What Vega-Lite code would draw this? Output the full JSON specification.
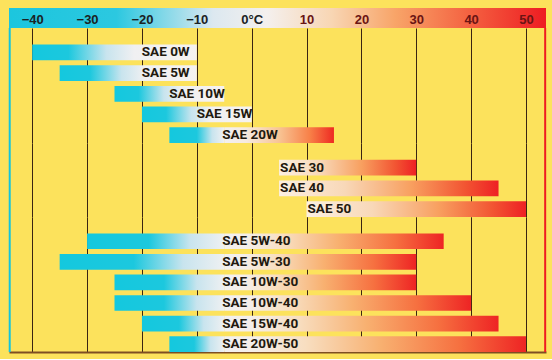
{
  "$schema": "https://vega.github.io/schema/vega-lite/v6.json",
  "background": "#FCE25C",
  "padding": {"left": 8, "top": 8, "right": 7, "bottom": 6},
  "spacing": 0,
  "bounds": "flush",
  "config": {"view": {"stroke": null}, "font": "Roboto", "axis": {"minExtent": 0, "maxExtent": 0, "offset": 0}},
  "datasets": {
    "oils": [
      {"oil": "SAE 0W", "kind": "winter", "lo": -40, "hi": -10},
      {"oil": "SAE 5W", "kind": "winter", "lo": -35, "hi": -10},
      {"oil": "SAE 10W", "kind": "winter", "lo": -25, "hi": -5},
      {"oil": "SAE 15W", "kind": "winter", "lo": -20, "hi": 0},
      {"oil": "SAE 20W", "kind": "winter", "lo": -15, "hi": 15},
      {"oil": "SAE 30", "kind": "summer", "lo": 5, "hi": 30},
      {"oil": "SAE 40", "kind": "summer", "lo": 5, "hi": 45},
      {"oil": "SAE 50", "kind": "summer", "lo": 10, "hi": 50},
      {"oil": "SAE 5W-40", "kind": "multi", "lo": -30, "hi": 35},
      {"oil": "SAE 5W-30", "kind": "multi", "lo": -35, "hi": 30},
      {"oil": "SAE 10W-30", "kind": "multi", "lo": -25, "hi": 30},
      {"oil": "SAE 10W-40", "kind": "multi", "lo": -25, "hi": 40},
      {"oil": "SAE 15W-40", "kind": "multi", "lo": -20, "hi": 45},
      {"oil": "SAE 20W-50", "kind": "multi", "lo": -15, "hi": 50}
    ]
  },
  "vconcat": [
    {
      "width": 537,
      "height": 20,
      "data": {"values": [{}]},
      "mark": {"type": "rect", "fill": {"gradient": "linear", "x1": 0, "x2": 1, "y1": 0, "y2": 0, "stops": [
        {"offset": 0, "color": "#1CC6DE"},
        {"offset": 0.2, "color": "#2CC8E0"},
        {"offset": 0.38, "color": "#DCE8F0"},
        {"offset": 0.48, "color": "#F4F0EE"},
        {"offset": 0.6, "color": "#F8D6B4"},
        {"offset": 0.72, "color": "#F8A468"},
        {"offset": 0.86, "color": "#F46040"},
        {"offset": 1, "color": "#EE1C22"}
      ]}},
      "encoding": {
        "x": {"datum": -44.23, "type": "quantitative", "scale": {"domain": [-44.23, 53.65], "nice": false, "zero": false},
          "axis": {"orient": "bottom", "zindex": 2, "values": [-40, -30, -20, -10, 0, 10, 20, 30, 40, 50], "grid": false, "domain": false, "ticks": false, "tickSize": 0,
            "labelPadding": -9, "labelBaseline": "middle", "labelFont": "Liberation Sans", "labelFontSize": 13, "labelFontWeight": "bold", "labelFlush": false, "labelOverlap": false,
            "labelExpr": "datum.value == 0 ? '0°C' : datum.label", "title": null,
            "labelColor": {"condition": {"test": "datum.value > 5", "value": "#6A1414"}, "value": "#1A2224"}}},
        "x2": {"datum": 53.65}
      }
    },
    {
      "width": 537,
      "height": 115,
      "data": {"name": "oils"},
      "transform": [{"filter": "datum.kind == 'winter'"}],
      "layer": [
        {
          "transform": [{"filter": "datum.hi <= 0"}],
          "mark": {"type": "bar", "fill": {"gradient": "linear", "x1": 0, "x2": 1, "y1": 0, "y2": 0, "stops": [
            {"offset": 0, "color": "#14C8DE"}, {"offset": 0.22, "color": "#1CC8DE"}, {"offset": 0.45, "color": "#C8E4EE"}, {"offset": 0.62, "color": "#F0F0F2"}, {"offset": 1, "color": "#F6F2F0"}]}},
          "encoding": {
            "y": {"field": "oil", "type": "nominal", "scale": {"domain": ["SAE 0W", "SAE 5W", "SAE 10W", "SAE 15W", "SAE 20W"], "paddingInner": 0.24, "paddingOuter": 0.4, "align": 1}, "axis": null},
            "x": {"field": "lo", "type": "quantitative", "scale": {"domain": [-44.23, 53.65], "nice": false, "zero": false},
              "axis": {"values": [-40, -30, -20, -10, 0, 10, 20, 30, 40, 50], "grid": true, "gridColor": "#3A2412", "gridWidth": 1, "gridOpacity": 1, "labels": false, "ticks": false, "domain": false, "title": null}},
            "x2": {"field": "hi"}
          }
        },
        {
          "transform": [{"filter": "datum.hi > 0"}],
          "mark": {"type": "bar", "fill": {"gradient": "linear", "x1": 0, "x2": 1, "y1": 0, "y2": 0, "stops": [
            {"offset": 0, "color": "#14C8DE"}, {"offset": 0.5, "color": "#1CC8DE"}, {"offset": 0.78, "color": "#C8E4EE"}, {"offset": 1, "color": "#F0F0F2"}]}},
          "encoding": {
            "y": {"field": "oil", "type": "nominal", "axis": null},
            "x": {"field": "lo", "type": "quantitative", "title": null},
            "x2": {"datum": -5}
          }
        },
        {
          "transform": [{"filter": "datum.hi > 0"}],
          "mark": {"type": "bar", "fill": {"gradient": "linear", "x1": 0, "x2": 1, "y1": 0, "y2": 0, "stops": [
            {"offset": 0, "color": "#F2F0F0"}, {"offset": 0.2, "color": "#F6EAE0"}, {"offset": 0.5, "color": "#F8C494"}, {"offset": 0.78, "color": "#F88048"}, {"offset": 1, "color": "#EE2A22"}]}},
          "encoding": {
            "y": {"field": "oil", "type": "nominal", "axis": null},
            "x": {"field": "hi", "type": "quantitative", "title": null},
            "x2": {"datum": -5}
          }
        },
        {
          "transform": [{"filter": "datum.hi <= 0"}],
          "mark": {"type": "text", "align": "left", "baseline": "middle", "dx": -55, "font": "Roboto", "fontWeight": "bold", "fontSize": 13.5, "color": "#22190F"},
          "encoding": {
            "y": {"field": "oil", "type": "nominal", "axis": null},
            "x": {"field": "hi", "type": "quantitative", "title": null},
            "text": {"field": "oil"}
          }
        },
        {
          "transform": [{"filter": "datum.hi > 0"}],
          "mark": {"type": "text", "align": "left", "baseline": "middle", "dx": -2, "font": "Roboto", "fontWeight": "bold", "fontSize": 13.5, "color": "#22190F"},
          "encoding": {
            "y": {"field": "oil", "type": "nominal", "axis": null},
            "x": {"datum": -5, "type": "quantitative"},
            "text": {"field": "oil"}
          }
        },
        {
          "data": {"values": [{}]},
          "mark": {"type": "rule", "color": "#12C4DE", "strokeWidth": 2},
          "encoding": {"x": {"datum": -44.1, "type": "quantitative"}}
        },
        {
          "data": {"values": [{}]},
          "mark": {"type": "rule", "color": "#EE1C22", "strokeWidth": 2},
          "encoding": {"x": {"datum": 53.5, "type": "quantitative"}}
        }
      ]
    },
    {
      "width": 537,
      "height": 74,
      "data": {"name": "oils"},
      "transform": [{"filter": "datum.kind == 'summer'"}],
      "layer": [
        {
          "mark": {"type": "bar", "fill": {"gradient": "linear", "x1": 0, "x2": 1, "y1": 0, "y2": 0, "stops": [
            {"offset": 0, "color": "#FCF0E2"}, {"offset": 0.3, "color": "#F8D8B8"}, {"offset": 0.6, "color": "#F8A060"}, {"offset": 0.85, "color": "#F25432"}, {"offset": 1, "color": "#EE2024"}]}},
          "encoding": {
            "y": {"field": "oil", "type": "nominal", "scale": {"domain": ["SAE 30", "SAE 40", "SAE 50"], "paddingInner": 0.24, "paddingOuter": 0.4, "align": 1}, "axis": null},
            "x": {"field": "lo", "type": "quantitative", "scale": {"domain": [-44.23, 53.65], "nice": false, "zero": false},
              "axis": {"values": [-40, -30, -20, -10, 0, 10, 20, 30, 40, 50], "grid": true, "gridColor": "#3A2412", "gridWidth": 1, "gridOpacity": 1, "labels": false, "ticks": false, "domain": false, "title": null}},
            "x2": {"field": "hi"}
          }
        },
        {
          "mark": {"type": "text", "align": "left", "baseline": "middle", "dx": 1, "font": "Roboto", "fontWeight": "bold", "fontSize": 13.5, "color": "#22190F"},
          "encoding": {
            "y": {"field": "oil", "type": "nominal", "axis": null},
            "x": {"field": "lo", "type": "quantitative", "title": null},
            "text": {"field": "oil"}
          }
        },
        {
          "data": {"values": [{}]},
          "mark": {"type": "rule", "color": "#12C4DE", "strokeWidth": 2},
          "encoding": {"x": {"datum": -44.1, "type": "quantitative"}}
        },
        {
          "data": {"values": [{}]},
          "mark": {"type": "rule", "color": "#EE1C22", "strokeWidth": 2},
          "encoding": {"x": {"datum": 53.5, "type": "quantitative"}}
        }
      ]
    },
    {
      "width": 537,
      "height": 135,
      "data": {"name": "oils"},
      "transform": [{"filter": "datum.kind == 'multi'"}],
      "layer": [
        {
          "mark": {"type": "bar", "fill": {"gradient": "linear", "x1": 0, "x2": 1, "y1": 0, "y2": 0, "stops": [
            {"offset": 0, "color": "#14C8DE"}, {"offset": 0.45, "color": "#1CC8DE"}, {"offset": 0.75, "color": "#C8E4EE"}, {"offset": 1, "color": "#EEF0F2"}]}},
          "encoding": {
            "y": {"field": "oil", "type": "nominal", "scale": {"domain": ["SAE 5W-40", "SAE 5W-30", "SAE 10W-30", "SAE 10W-40", "SAE 15W-40", "SAE 20W-50"], "paddingInner": 0.24, "paddingOuter": 0.4, "align": 1}, "axis": null},
            "x": {"field": "lo", "type": "quantitative", "scale": {"domain": [-44.23, 53.65], "nice": false, "zero": false},
              "axis": {"values": [-40, -30, -20, -10, 0, 10, 20, 30, 40, 50], "grid": true, "gridColor": "#3A2412", "gridWidth": 1, "gridOpacity": 1, "labels": false, "ticks": false, "domain": true, "domainColor": "#7E4E22", "domainWidth": 2, "title": null}},
            "x2": {"datum": -5}
          }
        },
        {
          "mark": {"type": "bar", "fill": {"gradient": "linear", "x1": 0, "x2": 1, "y1": 0, "y2": 0, "stops": [
            {"offset": 0, "color": "#F2F0F0"}, {"offset": 0.1, "color": "#F4EEEA"}, {"offset": 0.27, "color": "#F8DEC0"}, {"offset": 0.52, "color": "#F8B070"}, {"offset": 0.78, "color": "#F67040"}, {"offset": 1, "color": "#EE2424"}]}},
          "encoding": {
            "y": {"field": "oil", "type": "nominal", "axis": null},
            "x": {"field": "hi", "type": "quantitative", "title": null},
            "x2": {"datum": -5}
          }
        },
        {
          "mark": {"type": "text", "align": "left", "baseline": "middle", "dx": -2, "font": "Roboto", "fontWeight": "bold", "fontSize": 13.5, "color": "#22190F"},
          "encoding": {
            "y": {"field": "oil", "type": "nominal", "axis": null},
            "x": {"datum": -5, "type": "quantitative"},
            "text": {"field": "oil"}
          }
        },
        {
          "data": {"values": [{}]},
          "mark": {"type": "rule", "color": "#12C4DE", "strokeWidth": 2},
          "encoding": {"x": {"datum": -44.1, "type": "quantitative"}}
        },
        {
          "data": {"values": [{}]},
          "mark": {"type": "rule", "color": "#EE1C22", "strokeWidth": 2},
          "encoding": {"x": {"datum": 53.5, "type": "quantitative"}}
        }
      ]
    }
  ]
}
